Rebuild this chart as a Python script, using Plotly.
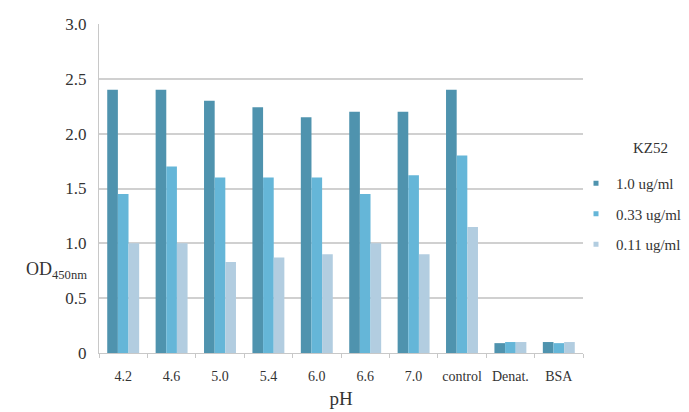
import plotly.graph_objects as go

categories = ["4.2", "4.6", "5.0", "5.4", "6.0", "6.6", "7.0", "control", "Denat.", "BSA"]
series_names = ["1.0 ug/ml", "0.33 ug/ml", "0.11 ug/ml"]
s1 = [2.40, 2.40, 2.30, 2.24, 2.15, 2.20, 2.20, 2.40, 0.09, 0.10]
s2 = [1.45, 1.70, 1.60, 1.60, 1.60, 1.45, 1.62, 1.80, 0.10, 0.09]
s3 = [1.00, 1.00, 0.83, 0.87, 0.90, 1.00, 0.90, 1.15, 0.10, 0.10]
y_ticks = [0, 0.5, 1.0, 1.5, 2.0, 2.5, 3.0]
y_tick_labels = ["0", "0.5", "1.0", "1.5", "2.0", "2.5", "3.0"]

colors = ["#4f93ae", "#65b6d8", "#b2cde0"]
font = "Liberation Serif"

fig = go.Figure()
for i, (name, vals, c) in enumerate(zip(series_names, [s1, s2, s3], colors)):
    fig.add_trace(go.Bar(x=categories, y=vals, name=name, showlegend=False,
                         marker=dict(color=c, line=dict(width=0))))
    # legend-only entry with a small square marker
    fig.add_trace(go.Scatter(x=[None], y=[None], mode="markers", name=name,
                             legendgroup=f"g{i}",
                             marker=dict(symbol="square", size=5, color=c)))

fig.update_layout(
    width=689, height=412,
    margin=dict(l=99, r=106, t=24, b=59, autoexpand=False),
    paper_bgcolor="white", plot_bgcolor="white",
    barmode="group", bargap=0.34, bargroupgap=0,
    font=dict(family=font, size=15, color="#333"),
    showlegend=True,
    legend=dict(
        x=(576 - 99) / 484, y=(353 - 167) / 329, xanchor="left", yanchor="top",
        font=dict(family=font, size=15, color="#333"),
        itemwidth=30, tracegroupgap=8,
        bgcolor="rgba(0,0,0,0)",
    ),
    xaxis=dict(
        showline=True, linecolor="#c8c8c8", linewidth=1,
        ticks="outside", tickson="boundaries", ticklen=4, tickcolor="#c8c8c8",
        tickangle=0, automargin=False, ticklabelstandoff=10,
        tickfont=dict(family=font, size=14, color="#333"),
        title=dict(text="pH", font=dict(family=font, size=19, color="#333"), standoff=8),
    ),
    yaxis=dict(
        range=[0, 3.0], tickvals=y_ticks, ticktext=y_tick_labels,
        showgrid=True, gridcolor="#d0d0d0", gridwidth=1.5,
        showline=True, linecolor="#c8c8c8", zeroline=False, automargin=False,
        ticks="", tickfont=dict(family=font, size=17, color="#333"), ticklabelstandoff=8,
    ),
    annotations=[
        dict(
            text="OD<sub>450nm</sub>", x=(24 - 99) / 484, y=(353 - 270) / 329,
            xref="paper", yref="paper",
            xanchor="left", yanchor="middle", showarrow=False,
            font=dict(family=font, size=18, color="#333"),
        ),
        dict(
            text="KZ52", x=(650 - 99) / 484, y=(353 - 148) / 329,
            xref="paper", yref="paper",
            xanchor="center", yanchor="middle", showarrow=False,
            font=dict(family=font, size=15, color="#333"),
        ),
    ],
)

fig.write_html("out.html")
